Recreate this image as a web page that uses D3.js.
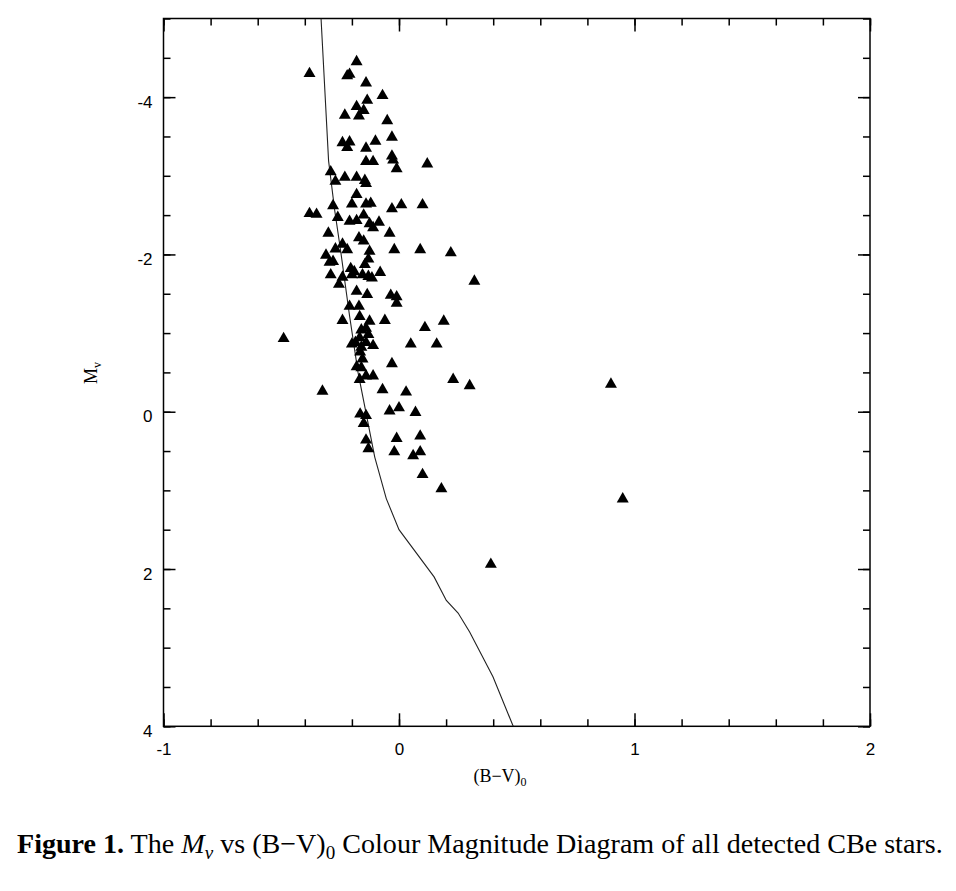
<!DOCTYPE html>
<html><head><meta charset="utf-8">
<script src="https://cdn.jsdelivr.net/npm/d3@7"></script>
<style>body{margin:0;background:#fff}svg{display:block}</style>
</head><body>
<svg id="c" width="956" height="891"></svg>
<script>
// Star colours (B-V)0 and absolute magnitudes Mv
const starBV = [-0.18,-0.38,-0.21,-0.22,-0.14,-0.07,-0.135,-0.18,-0.15,-0.23,-0.17,-0.05,-0.03,-0.10,-0.24,-0.21,-0.22,-0.14,-0.03,-0.025,
  -0.01,-0.14,-0.11,0.12,-0.29,-0.23,-0.18,-0.27,-0.145,-0.14,-0.18,-0.28,-0.20,-0.14,-0.12,-0.03,0.01,0.10,-0.38,-0.35,
  -0.26,-0.21,-0.18,-0.15,-0.125,-0.11,-0.085,-0.30,-0.04,-0.17,-0.15,-0.27,-0.24,-0.22,-0.125,-0.02,0.09,0.22,-0.31,-0.295,
  -0.28,-0.13,-0.145,-0.205,-0.19,-0.20,-0.155,-0.13,-0.115,-0.08,-0.29,-0.24,-0.255,-0.18,-0.135,-0.035,-0.01,-0.01,-0.21,-0.17,
  0.32,-0.24,-0.167,-0.125,-0.06,0.11,0.19,-0.16,-0.14,-0.13,-0.20,-0.185,-0.167,-0.16,-0.14,-0.11,-0.165,-0.155,0.05,0.16,
  -0.03,-0.18,-0.16,-0.14,-0.11,-0.167,-0.325,-0.07,0.03,0.23,0.30,-0.165,-0.14,-0.15,-0.04,0.00,0.07,-0.14,-0.01,0.09,
  -0.13,-0.02,0.06,0.09,0.10,0.18,-0.49,0.39,0.90,0.95];
const starMv = [-4.45,-4.30,-4.29,-4.27,-4.18,-4.02,-3.96,-3.88,-3.83,-3.77,-3.76,-3.70,-3.49,-3.44,-3.42,-3.43,-3.36,-3.35,-3.25,-3.20,
  -3.09,-3.18,-3.18,-3.15,-3.05,-2.98,-2.98,-2.93,-2.94,-2.90,-2.76,-2.62,-2.64,-2.64,-2.65,-2.58,-2.63,-2.63,-2.52,-2.51,
  -2.47,-2.42,-2.43,-2.50,-2.39,-2.34,-2.41,-2.27,-2.27,-2.21,-2.17,-2.07,-2.13,-2.06,-2.04,-2.06,-2.06,-2.02,-1.99,-1.90,
  -1.91,-1.94,-1.87,-1.82,-1.78,-1.74,-1.74,-1.72,-1.70,-1.77,-1.74,-1.71,-1.62,-1.53,-1.49,-1.48,-1.46,-1.38,-1.34,-1.34,
  -1.66,-1.16,-1.21,-1.15,-1.16,-1.07,-1.15,-1.04,-1.06,-0.98,-0.86,-0.88,-0.94,-0.82,-0.88,-0.84,-0.76,-0.67,-0.86,-0.86,
  -0.61,-0.57,-0.56,-0.455,-0.455,-0.41,-0.26,-0.28,-0.25,-0.41,-0.33,0.03,0.05,0.15,-0.01,-0.05,0.01,0.36,0.34,0.31,
  0.47,0.51,0.56,0.51,0.80,0.98,-0.93,1.94,-0.35,1.11];
// ZAMS curve
const zamsBV = [-0.331,-0.299,-0.273,-0.248,-0.210,-0.174,-0.117,-0.103,-0.054,0.0,0.149,0.201,0.251,0.300,0.399,0.485];
const zamsMv = [-5.0,-3.19,-2.56,-2.05,-1.22,-0.50,0.365,0.577,1.105,1.50,2.10,2.40,2.56,2.80,3.37,4.0];
// Axes
const xDomain = [-1, 2];
const yDomain = [-5, 4];
const xTicks = [-1, 0, 1, 2];
const yTicks = [-4, -2, 0, 2, 4];
const xMinorStep = 0.2;
const yMinorStep = 0.5;

const L = 163.5, R = 870, T = 18.5, B = 726.3;
const svg = d3.select("#c");
const x = d3.scaleLinear().domain(xDomain).range([L, R]);
const y = d3.scaleLinear().domain(yDomain).range([T, B]);
const xMinor = d3.range(xDomain[0], xDomain[1] + 1e-9, xMinorStep);
const yMinor = d3.range(yDomain[0], yDomain[1] + 1e-9, yMinorStep);
const fmt = d => String(d);

function style(g, withText) {
  g.select(".domain").remove();
  g.selectAll(".tick line").attr("stroke", "#000").attr("stroke-width", 1.5);
  if (withText) g.selectAll(".tick text").attr("fill", "#000")
      .attr("font-family", "Liberation Sans, Arial, sans-serif").attr("font-size", 17);
}
// bottom
svg.append("g").attr("transform", `translate(0,${B})`)
  .call(d3.axisBottom(x).tickValues(xMinor).tickSize(-7).tickFormat("")).call(g => style(g));
svg.append("g").attr("transform", `translate(0,${B})`)
  .call(d3.axisBottom(x).tickValues(xTicks).tickSize(-13).tickPadding(17).tickFormat(fmt)).call(g => style(g, true));
// top
svg.append("g").attr("transform", `translate(0,${T})`)
  .call(d3.axisTop(x).tickValues(xMinor).tickSize(-7).tickFormat("")).call(g => style(g));
svg.append("g").attr("transform", `translate(0,${T})`)
  .call(d3.axisTop(x).tickValues(xTicks).tickSize(-13).tickFormat("")).call(g => style(g));
// left
svg.append("g").attr("transform", `translate(${L},0)`)
  .call(d3.axisLeft(y).tickValues(yMinor).tickSize(-7).tickFormat("")).call(g => style(g));
const gl = svg.append("g").attr("transform", `translate(${L},0)`)
  .call(d3.axisLeft(y).tickValues(yTicks).tickSize(-12).tickPadding(11).tickFormat(fmt)).call(g => style(g, true));
gl.selectAll(".tick text").attr("dy", "0.6em");
// right
svg.append("g").attr("transform", `translate(${R},0)`)
  .call(d3.axisRight(y).tickValues(yMinor).tickSize(-7).tickFormat("")).call(g => style(g));
svg.append("g").attr("transform", `translate(${R},0)`)
  .call(d3.axisRight(y).tickValues(yTicks).tickSize(-12).tickFormat("")).call(g => style(g));

// frame
svg.append("rect").attr("x", L).attr("y", T).attr("width", R - L).attr("height", B - T)
  .attr("fill", "none").attr("stroke", "#000").attr("stroke-width", 1.5);

// clip
svg.append("clipPath").attr("id", "clip").append("rect")
  .attr("x", L).attr("y", T).attr("width", R - L).attr("height", B - T);

// ZAMS line
const zams = zamsBV.map((v, i) => [v, zamsMv[i]]);
svg.append("path").datum(zams).attr("clip-path", "url(#clip)")
  .attr("d", d3.line().x(d => x(d[0])).y(d => y(d[1])))
  .attr("fill", "none").attr("stroke", "#222").attr("stroke-width", 1.1);

// stars
const stars = starBV.map((v, i) => [v, starMv[i]]);
const tri = d3.symbol().type(d3.symbolTriangle).size(62);
svg.append("g").selectAll("path").data(stars).join("path")
  .attr("transform", d => `translate(${x(d[0])},${y(d[1])})`)
  .attr("d", tri).attr("fill", "#000");

// axis titles
svg.append("text").attr("x", 500).attr("y", 782).attr("text-anchor", "middle")
  .attr("font-family", "Liberation Serif, Times New Roman, serif").attr("font-size", 18).attr("fill", "#000")
  .call(t => { t.append("tspan").text("(B\u2212V)"); t.append("tspan").attr("dy", 4).attr("font-size", 12).text("0"); });
svg.append("text").attr("transform", "translate(97,373) rotate(-90)").attr("text-anchor", "middle")
  .attr("font-family", "Liberation Serif, Times New Roman, serif").attr("font-size", 18).attr("fill", "#000")
  .call(t => { t.append("tspan").text("M"); t.append("tspan").attr("dy", 4).attr("font-size", 12).text("v"); });

// caption
const cap = svg.append("text").attr("font-family", "Liberation Serif, Times New Roman, serif")
  .attr("font-size", 25).attr("fill", "#000");
cap.append("tspan").attr("font-weight", "bold").text("Figure 1.");
cap.append("tspan").text(" The ");
cap.append("tspan").attr("font-style", "italic").text("M");
cap.append("tspan").attr("font-style", "italic").attr("font-size", 17).attr("dy", 5).text("v");
cap.append("tspan").attr("dy", -5).text(" vs (B\u2212V)");
cap.append("tspan").attr("font-size", 17).attr("dy", 5).text("0");
cap.append("tspan").attr("dy", -5).text(" Colour Magnitude Diagram of all detected CBe stars.");
const bw = cap.node().getBBox().width;
const k = 926 / bw;
cap.attr("transform", `translate(17,853) scale(${k})`);
</script>
</body></html>
